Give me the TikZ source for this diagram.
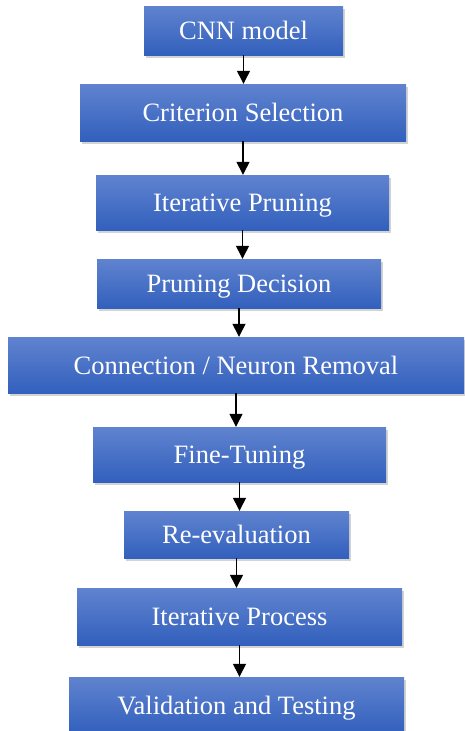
\documentclass[tikz,border=0pt]{standalone}
\usepackage{fontspec}
\setmainfont{Liberation Serif}
\usepackage{xcolor}
\usetikzlibrary{arrows.meta,shadows}

\definecolor{boxtop}{RGB}{96,131,207}
\definecolor{boxbot}{RGB}{50,96,189}

\begin{document}
\begin{tikzpicture}[x=1pt, y=-1pt,
    box/.style={rectangle, inner sep=0pt, text=white,
        font=\fontsize{26.5}{30}\selectfont, text height=22pt, text depth=4pt,
        top color=boxtop, bottom color=boxbot,
        drop shadow={opacity=0.35, shadow xshift=2pt, shadow yshift=-3pt}},
    % Arrow style
    flow/.style={black, line width=1.3pt, -{Triangle[length=13pt, width=13pt]}},
    ]
    \useasboundingbox (0,0) rectangle (464,731);

    % Steps of the pruning pipeline
    \node[box, minimum width=199pt, minimum height=49pt] (cnn) at (243.5,30.5) {CNN model};
    \node[box, minimum width=326pt, minimum height=57pt] (crit) at (243,112.5) {Criterion Selection};
    \node[box, minimum width=293pt, minimum height=55pt] (iter) at (242.5,202.5) {Iterative Pruning};
    \node[box, minimum width=284pt, minimum height=49pt] (dec) at (239,283.5) {Pruning Decision};
    \node[box, minimum width=456pt, minimum height=56pt] (rem) at (236,365) {Connection / Neuron Removal};
    \node[box, minimum width=293pt, minimum height=55pt] (fine) at (239.5,454.5) {Fine-Tuning};
    \node[box, minimum width=225pt, minimum height=47pt] (reev) at (236.5,534.5) {Re-evaluation};
    \node[box, minimum width=325pt, minimum height=57pt] (proc) at (239.5,616.5) {Iterative Process};
    \node[box, minimum width=335pt, minimum height=56pt] (val) at (236.5,705) {Validation and Testing};

    % Arrows between steps
    \draw[flow] (cnn) -- (cnn |- crit.north);
    \draw[flow] (crit) -- (crit |- iter.north);
    \draw[flow] (iter) -- (iter |- dec.north);
    \draw[flow] (dec) -- (dec |- rem.north);
    \draw[flow] (rem) -- (rem |- fine.north);
    \draw[flow] (fine) -- (fine |- reev.north);
    \draw[flow] (reev) -- (reev |- proc.north);
    \draw[flow] (proc) -- (proc |- val.north);
\end{tikzpicture}
\end{document}
